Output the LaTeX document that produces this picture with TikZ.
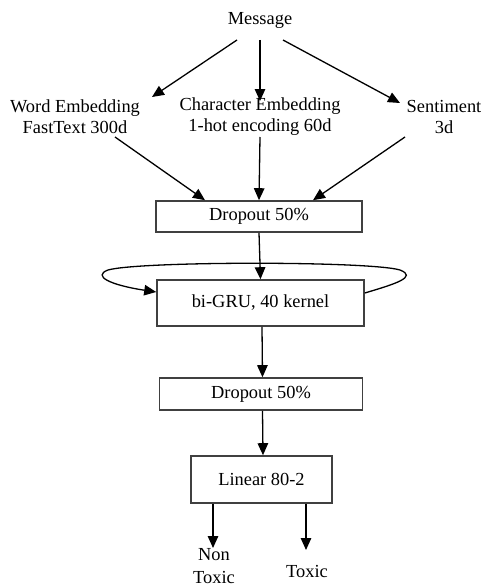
\documentclass[tikz,border=0pt]{standalone}
\usepackage{fontspec}
\setmainfont{Liberation Serif}
\usetikzlibrary{arrows.meta}
\begin{document}
\begin{tikzpicture}[x=1pt,y=-1pt,
  txt/.style={inner sep=0pt,align=center,font=\fontsize{18.4}{21}\selectfont},
  box/.style={draw=black!75,line width=1.6pt,fill=white,inner sep=0pt,font=\fontsize{18.4}{21}\selectfont},
  arr/.style={line width=1.3pt,-{Triangle[length=12pt,width=10.5pt]}}]
\useasboundingbox (0,0) rectangle (483,586);
\node[txt] (msg) at (260,20) {Message};
\node[txt] (word) at (75,117) {Word Embedding\\FastText 300d};
\node[txt] (char) at (260,117) {Character Embedding\\1-hot encoding 60d};
\node[txt] (sent) at (444,117) {Sentiment\\3d};
\node[box,minimum width=206pt,minimum height=31pt] (d1) at (259,216.5) {Dropout 50\%};
\node[box,minimum width=207pt,minimum height=46pt] (gru) at (260.5,303) {bi-GRU, 40 kernel};
\node[box,minimum width=203pt,minimum height=32pt] (d2) at (261,394) {Dropout 50\%};
\node[box,minimum width=141pt,minimum height=47pt] (lin) at (261.5,479.5) {Linear 80-2};
\node[txt,font=\fontsize{18.4}{23}\selectfont] (non) at (214,566) {Non\\Toxic};
\node[txt] (tox) at (307,571) {Toxic};
\draw[arr] ([shift={(-23,20)}]msg.center) -- ([shift={(77,-20)}]word.center);
\draw[arr] ([shift={(0,20)}]msg.center) -- ([shift={(0,-16)}]char.center);
\draw[arr] ([shift={(23,20)}]msg.center) -- ([shift={(-44,-14)}]sent.center);
\draw[arr] ([shift={(40,20)}]word.center) -- ([xshift=-54pt]d1.north);
\draw[arr] ([shift={(0,20)}]char.center) -- (d1.north);
\draw[arr] ([shift={(-39,20)}]sent.center) -- ([xshift=54pt]d1.north);
\draw[arr] (d1.south) -- (gru.north);
\draw[arr] ([yshift=10pt]gru.east) .. controls (395,284) and (418,277) .. (400,270)
  .. controls (370,261) and (140,261) .. (108,270)
  .. controls (92,276) and (110,285) .. ([yshift=11pt]gru.west);
\draw[arr] ([xshift=1.5pt]gru.south) -- ([xshift=1.5pt]d2.north);
\draw[arr] ([xshift=1.5pt]d2.south) -- ([xshift=1.5pt]lin.north);
\draw[arr] ([xshift=-48.5pt]lin.south) -- ([shift={(-1,-18)}]non.center);
\draw[arr] ([xshift=44.5pt]lin.south) -- ([shift={(-1,-21)}]tox.center);
\end{tikzpicture}
\end{document}
